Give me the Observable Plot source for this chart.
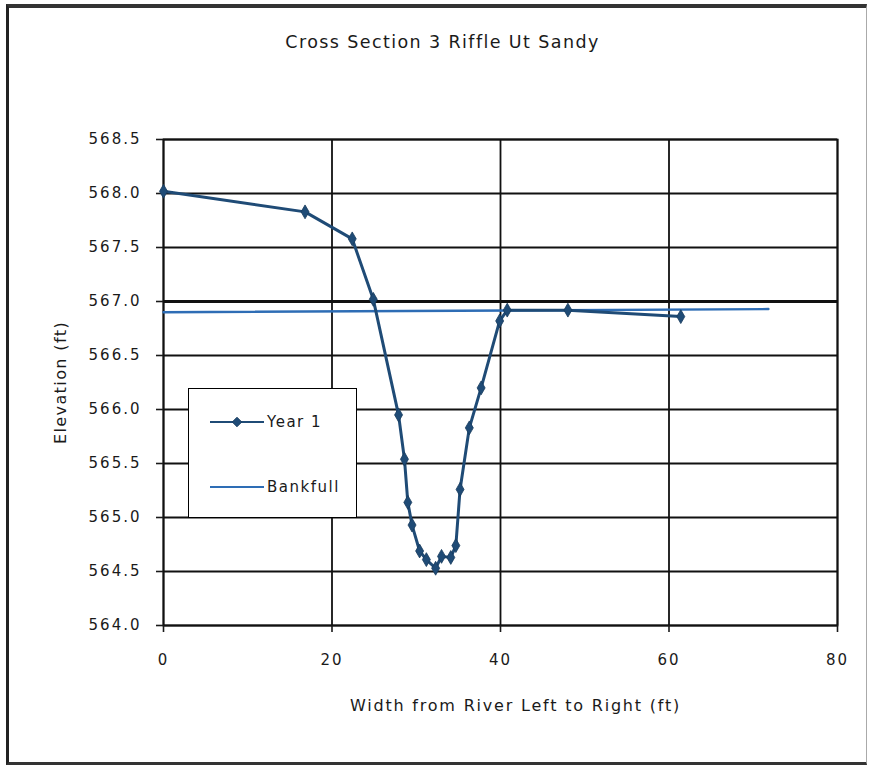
<!DOCTYPE html>
<html>
<head>
<meta charset="utf-8">
<script src="https://cdn.jsdelivr.net/npm/d3@7"></script>
<script src="https://cdn.jsdelivr.net/npm/@observablehq/plot@0.6"></script>
<style>
  html, body { margin: 0; padding: 0; background: #fff; }
  #wrap { position: relative; width: 869px; height: 767px; overflow: hidden; background: #fff; }
  #border { position: absolute; left: 6px; top: 4px; width: 861px; height: 761px; box-sizing: border-box;
            border-top: 4px solid #333; border-left: 3px solid #222; border-bottom: 3px solid #333; border-right: 1px solid #aaa; pointer-events: none; }
  #chart { position: absolute; left: 0; top: 0; }
  #legend { position: absolute; left: 188px; top: 388px; width: 169px; height: 130px; box-sizing: border-box;
            border: 1.6px solid #000; background: #fff; }
  #legend svg { display: block; }
  #legend text { font-family: "DejaVu Sans", sans-serif; font-size: 15px; letter-spacing: 1.5px; fill: #1a1a1a; }
</style>
</head>
<body>
<div id="wrap">
  <div id="chart"></div>
  <div id="legend"></div>
  <div id="border"></div>
</div>
<script>
// ---- data ----
const title = "Cross Section 3 Riffle Ut Sandy";
const xLabel = "Width from River Left to Right (ft)";
const yLabel = "Elevation (ft)";
const xTicks = [0, 20, 40, 60, 80];
const yTicks = [564.0, 564.5, 565.0, 565.5, 566.0, 566.5, 567.0, 567.5, 568.0, 568.5];
const seriesNames = ["Year 1", "Bankfull"];
const year1X = [0, 16.8, 22.4, 24.9, 27.9, 28.6, 29.0, 29.5, 30.4, 31.2, 32.3, 33.0, 34.1, 34.7, 35.2, 36.3, 37.7, 39.9, 40.8, 48.0, 61.4];
const year1Y = [568.02, 567.83, 567.58, 567.02, 565.95, 565.54, 565.14, 564.93, 564.69, 564.61, 564.53, 564.64, 564.63, 564.74, 565.26, 565.83, 566.20, 566.82, 566.92, 566.92, 566.86];
const bankfullX = [0, 71.8];
const bankfullY = [566.90, 566.93];

const year1 = year1X.map((x, i) => ({x, y: year1Y[i]}));
const bankfull = bankfullX.map((x, i) => ({x, y: bankfullY[i]}));

const colYear = "#1f4b76";
const colBank = "#2e6db5";

const chart = Plot.plot({
  width: 869,
  height: 767,
  marginLeft: 163,
  marginRight: 32,
  marginTop: 139,
  marginBottom: 142,
  x: {domain: [0, 80]},
  y: {domain: [564, 568.5]},
  style: {fontFamily: "DejaVu Sans, sans-serif", fontSize: "15px", color: "#1a1a1a", background: "transparent", overflow: "visible"},
  marks: [
    Plot.ruleY(yTicks, {stroke: "#111", strokeWidth: d => d === 567 ? 3.2 : 1.8}),
    Plot.ruleX(xTicks, {stroke: "#111", strokeWidth: 1.8}),
    Plot.frame({stroke: "#111", strokeWidth: 1.8}),
    Plot.axisX({ticks: xTicks, tickSize: 7, tickPadding: 22, label: null, fontSize: 15, strokeWidth: 1.6}),
    Plot.axisY({ticks: yTicks, tickFormat: d3.format(".1f"), tickSize: 7, tickPadding: 15, label: null, fontSize: 15, strokeWidth: 1.6}),
    Plot.line(bankfull, {x: "x", y: "y", stroke: colBank, strokeWidth: 2.4}),
    Plot.line(year1, {x: "x", y: "y", stroke: colYear, strokeWidth: 3}),
    Plot.dot(year1, {x: "x", y: "y", symbol: "diamond", r: 4.2, fill: colYear, stroke: "#173a5c", strokeWidth: 0.8}),
    Plot.text([title], {frameAnchor: "top-left", dx: 279, dy: -97, textAnchor: "middle", lineAnchor: "middle", fontSize: 17.5, fill: "#1a1a1a"}),
    Plot.text([xLabel], {frameAnchor: "bottom", dx: 15, dy: 80, textAnchor: "middle", lineAnchor: "middle", fontSize: 16, fill: "#1a1a1a"}),
    Plot.text([yLabel], {frameAnchor: "left", dx: -103, rotate: -90, textAnchor: "middle", lineAnchor: "middle", fontSize: 16, fill: "#1a1a1a"})
  ]
});
document.getElementById("chart").appendChild(chart);

// letter-spacing tweaks to match the wide rendering of the reference
const svg = d3.select(chart);
svg.selectAll('g[aria-label="x-axis tick label"] text, g[aria-label="y-axis tick label"] text').style("letter-spacing", "2px");
svg.selectAll('g[aria-label="text"] text').each(function() {
  const t = this.textContent;
  if (t === title) d3.select(this).style("letter-spacing", "1.4px");
  else if (t === xLabel) d3.select(this).style("letter-spacing", "1.8px");
  else if (t === yLabel) d3.select(this).style("letter-spacing", "1.4px");
});

// legend
const leg = d3.select("#legend").append("svg").attr("width", 166).attr("height", 127);
const rows = [{name: seriesNames[0], color: colYear, marker: true, y: 33}, {name: seriesNames[1], color: colBank, marker: false, y: 98}];
rows.forEach(r => {
  leg.append("line").attr("x1", 21).attr("x2", 75).attr("y1", r.y).attr("y2", r.y)
     .attr("stroke", r.color).attr("stroke-width", r.marker ? 2.2 : 1.8);
  if (r.marker) {
    leg.append("path").attr("d", d3.symbol(d3.symbolDiamond2 || d3.symbolDiamond, 60)()).attr("transform", `translate(48,${r.y})`)
       .attr("fill", r.color).attr("stroke", "#173a5c").attr("stroke-width", 0.8);
  }
  leg.append("text").attr("x", 78).attr("y", r.y).attr("dy", "0.35em").text(r.name);
});
</script>
</body>
</html>
